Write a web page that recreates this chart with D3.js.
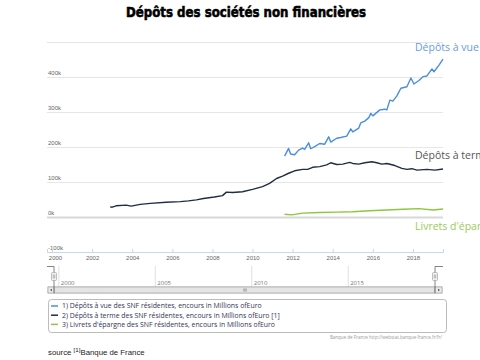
<!DOCTYPE html>
<html><head><meta charset="utf-8">
<script src="https://cdn.jsdelivr.net/npm/d3@7/dist/d3.min.js"></script>
<style>
html,body{margin:0;padding:0;background:#fff;}
svg{display:block;}
</style></head>
<body>
<script>
// ---- data (decimal year, value in thousands of millions EUR) ----
const title = "Dépôts des sociétés non financières";
const seriesNames = [
  "1) Dépôts à vue des SNF résidentes, encours in Millions ofEuro",
  "2) Dépôts à terme des SNF résidentes, encours in Millions ofEuro [1]",
  "3) Livrets d'épargne des SNF résidentes, encours in Millions ofEuro"
];
const seriesLabels = ["Dépôts à vue des SNF résidentes", "Dépôts à terme des SNF résidentes", "Livrets d'épargne des SNF résidentes"];
const seriesColors = ["#4a8ee0", "#1f2d45", "#8dc63f"];
const labelColors = ["#6a9be0", "#555555", "#9bc95a"];

const vueDates = [2011.6,2011.8,2011.9,2012.1,2012.3,2012.5,2012.6,2012.8,2012.9,2013.1,2013.35,2013.6,2013.8,2013.9,2014.2,2014.4,2014.7,2014.9,2015.0,2015.3,2015.4,2015.6,2015.8,2015.9,2016.0,2016.35,2016.6,2016.7,2016.85,2017.0,2017.2,2017.4,2017.7,2017.9,2018.05,2018.3,2018.5,2018.7,2018.95,2019.05,2019.3,2019.5];
const vueValues = [174,196,180,178,191,197,193,212,195,201,210,208,229,214,225,227,231,252,243,254,269,274,284,296,289,306,308,306,334,331,346,368,372,397,380,390,401,403,423,415,434,451];

const termeDates = [2002.9,2003.0,2003.2,2003.7,2003.95,2004.4,2004.9,2005.7,2006.4,2006.8,2007.2,2007.55,2008.1,2008.5,2008.7,2009.0,2009.5,2010.0,2010.5,2010.85,2011.2,2011.5,2011.8,2012.1,2012.5,2012.75,2013.0,2013.35,2013.7,2013.9,2014.2,2014.5,2014.85,2015.0,2015.3,2015.6,2015.95,2016.2,2016.45,2016.7,2017.1,2017.45,2017.7,2017.95,2018.2,2018.7,2019.1,2019.5];
const termeValues = [29,28,32,34,31,36,39,42,44,46,49,53,57,61,71,70,72,79,87,96,110,117,125,132,136,136,142,144,149,155,150,151,156,153,151,155,158,155,151,153,147,139,136,138,134,136,134,137];

const livretsDates = [2011.6,2011.95,2012.5,2013.35,2014.2,2015.0,2015.85,2016.7,2017.5,2018.3,2019.0,2019.5];
const livretsValues = [8,6,11,13,14,15,18,20,22,24,20,23];

const yTicks = [-100,0,100,200,300,400,500];
const yTickLabels = ["-100k","0k","100k","200k","300k","400k",""];
const xTicks = [2000,2002,2004,2006,2008,2010,2012,2014,2016,2018];
const navTicks = [2000,2005,2010,2015];
const xDomain = [1999.75, 2019.5];
const yDomain = [-100, 500];
const creditText = "Banque de France http://webstat.banque-france.fr/fr/";

// ---- drawing ----
const W = 480, H = 360;
const svg = d3.select("body").append("svg").attr("width", W).attr("height", H)
  .style("font-family", "'Open Sans', 'DejaVu Sans', sans-serif");

const L = 47, R = 443, T = 42, B = 252;
const x = d3.scaleLinear().domain(xDomain).range([L, R]);
const y = d3.scaleLinear().domain(yDomain).range([B, T]);

// title
svg.append("text").attr("x", 246).attr("y", 17).attr("text-anchor", "middle")
  .attr("font-family", "'DejaVu Sans', sans-serif").attr("font-weight", 900)
  .attr("font-size", 14).attr("fill", "#000").attr("stroke", "#000").attr("stroke-width", 0.6)
  .attr("textLength", 240).attr("lengthAdjust", "spacingAndGlyphs")
  .text(title);

// gridlines + y labels
const yAxis = d3.axisLeft(y).tickValues(yTicks).tickSize(-(R - L)).tickFormat((d, i) => yTickLabels[i]);
const gy = svg.append("g").attr("transform", `translate(${L},0)`).call(yAxis);
gy.select(".domain").remove();
gy.selectAll(".tick line").attr("stroke", "#e6e6e6").attr("stroke-width", 1);
gy.selectAll(".tick text").attr("x", 1).attr("dy", -3).attr("text-anchor", "start")
  .attr("font-size", 6).attr("fill", "#666");
gy.selectAll(".tick").filter(d => d === 0).select("line").attr("stroke", "#d8d8d8").attr("stroke-width", 2);

// x axis
const xAxis = d3.axisBottom(x).tickValues(xTicks).tickFormat(d3.format("d")).tickSize(-3).tickPadding(4);
const gx = svg.append("g").attr("transform", `translate(0,${B})`).call(xAxis);
gx.select(".domain").attr("stroke", "#ccd6eb");
gx.selectAll(".tick line").attr("stroke", "#ccd6eb");
gx.selectAll(".tick text").attr("font-size", 6).attr("fill", "#666")
  .attr("x", d => Math.max(0, L + 8 - x(d)));

// series
const line = d3.line().x(d => x(d[0])).y(d => y(d[1]));
const series = [
  d3.zip(vueDates, vueValues),
  d3.zip(termeDates, termeValues),
  d3.zip(livretsDates, livretsValues)
];
series.forEach((s, i) => {
  svg.append("path").datum(s).attr("d", line).attr("fill", "none")
    .attr("stroke", seriesColors[i]).attr("stroke-width", 1.4).attr("stroke-linejoin", "round");
});

// end labels
const labelOffsets = [[-28, -8], [-28, -10], [-28, 21]];
series.forEach((s, i) => {
  const last = s[s.length - 1];
  svg.append("text").attr("x", x(last[0]) + labelOffsets[i][0]).attr("y", y(last[1]) + labelOffsets[i][1])
    .attr("font-size", 10.5).attr("fill", labelColors[i]).text(seriesLabels[i]);
});

// navigator
const nx = d3.scaleLinear().domain(xDomain).range([54, 435]);
const navTop = 266, navBot = 287;
const gn = svg.append("g");
gn.selectAll("line.ng").data(navTicks).join("line")
  .attr("x1", d => nx(d)).attr("x2", d => nx(d)).attr("y1", navTop).attr("y2", navBot)
  .attr("stroke", "#e0e0e0");
gn.selectAll("text.nl").data(navTicks).join("text")
  .attr("x", d => nx(d) + 2).attr("y", 285).attr("font-size", 6).attr("fill", "#777")
  .text(d => d);
// scrollbar
gn.append("rect").attr("x", 48).attr("y", 287).attr("width", 394).attr("height", 6)
  .attr("fill", "#f2f2f2").attr("stroke", "#999").attr("stroke-width", 0.6);
gn.append("rect").attr("x", 54).attr("y", 287).attr("width", 381).attr("height", 6)
  .attr("fill", "#e4e4e4").attr("stroke", "#999").attr("stroke-width", 0.6);
gn.append("rect").attr("x", 48).attr("y", 287).attr("width", 6).attr("height", 6)
  .attr("fill", "#ebebeb").attr("stroke", "#999").attr("stroke-width", 0.6);
gn.append("rect").attr("x", 435).attr("y", 287).attr("width", 7).attr("height", 6)
  .attr("fill", "#ebebeb").attr("stroke", "#999").attr("stroke-width", 0.6);
gn.append("path").attr("d", "M50,290 L52,288.8 L52,291.2 Z").attr("fill", "#555");
gn.append("path").attr("d", "M440,290 L438,288.8 L438,291.2 Z").attr("fill", "#555");
[-1.2, 0, 1.2].forEach(o => gn.append("line").attr("x1", 245 + o).attr("x2", 245 + o)
  .attr("y1", 288.5).attr("y2", 291.5).attr("stroke", "#666").attr("stroke-width", 0.5));
// outline
gn.append("path").attr("d", `M47,${navTop}.5 H${nx(xDomain[0])} V293`).attr("fill", "none").attr("stroke", "#666").attr("stroke-width", 0.8);
gn.append("path").attr("d", `M${nx(xDomain[1])},293 V${navTop}.5 H443`).attr("fill", "none").attr("stroke", "#666").attr("stroke-width", 0.8);
// handles
[nx(xDomain[0]), nx(xDomain[1])].forEach(hx => {
  gn.append("rect").attr("x", hx - 2.5).attr("y", 272.5).attr("width", 5).attr("height", 8).attr("rx", 1)
    .attr("fill", "#f2f2f2").attr("stroke", "#999").attr("stroke-width", 0.6);
  gn.append("line").attr("x1", hx - 0.7).attr("x2", hx - 0.7).attr("y1", 274.5).attr("y2", 278.5).attr("stroke", "#555").attr("stroke-width", 0.4);
  gn.append("line").attr("x1", hx + 0.7).attr("x2", hx + 0.7).attr("y1", 274.5).attr("y2", 278.5).attr("stroke", "#555").attr("stroke-width", 0.4);
});

// legend
svg.append("rect").attr("x", 48.5).attr("y", 299.5).attr("width", 398).attr("height", 33).attr("rx", 3)
  .attr("fill", "#fff").attr("stroke", "#aaa").attr("stroke-width", 0.8);
seriesNames.forEach((n, i) => {
  const yy = 306 + i * 9.2;
  svg.append("line").attr("x1", 51).attr("x2", 58).attr("y1", yy).attr("y2", yy)
    .attr("stroke", seriesColors[i]).attr("stroke-width", 1.5);
  svg.append("text").attr("x", 62).attr("y", yy + 2.4).attr("font-size", 6.9).attr("fill", "#333355").text(n);
});

// credits
svg.append("text").attr("x", 442).attr("y", 338.5).attr("text-anchor", "end").attr("font-size", 4.5)
  .attr("fill", "#999").text(creditText);

// source line
const src = svg.append("text").attr("x", 48).attr("y", 355).attr("font-family", "'Liberation Sans', Arial, sans-serif")
  .attr("font-size", 7.8).attr("fill", "#222");
src.append("tspan").text("source ");
src.append("tspan").attr("font-size", 6.2).attr("dy", -3).text("[1]");
src.append("tspan").attr("dy", 3).text("Banque de France");
</script>
</body></html>
